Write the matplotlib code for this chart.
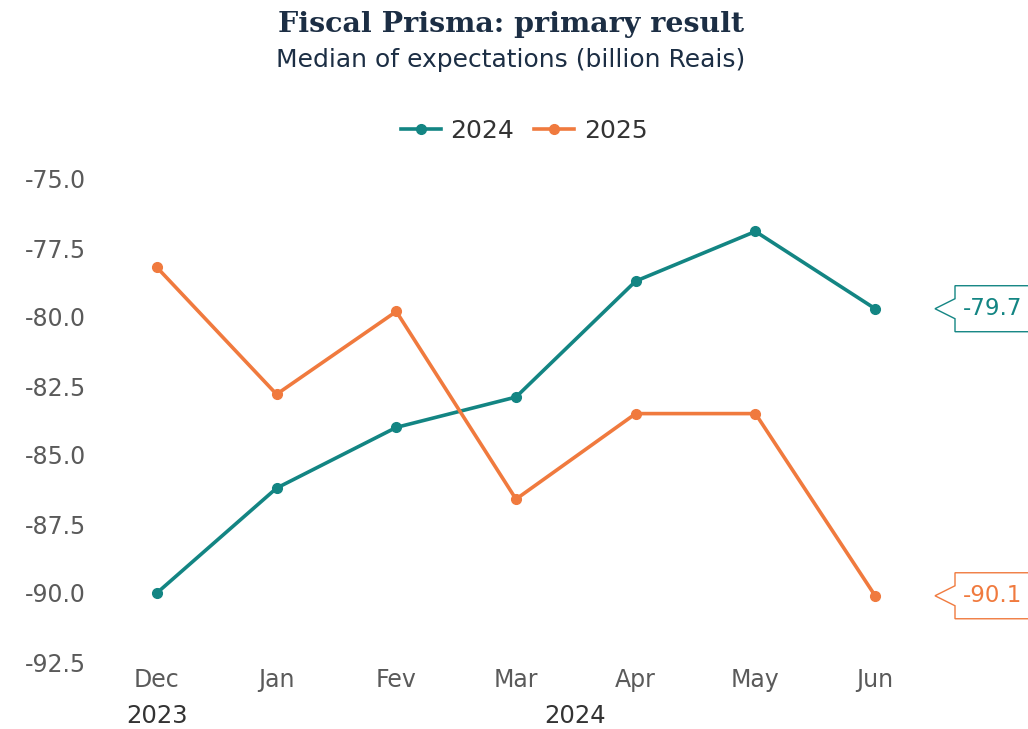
import matplotlib
matplotlib.use("Agg")
import matplotlib.pyplot as plt
import matplotlib.transforms as mtransforms
from matplotlib.patches import Polygon

months = ["Dec", "Jan", "Fev", "Mar", "Apr", "May", "Jun"]
years = ["2023", "2024"]
exp_2024 = [-90.0, -86.2, -84.0, -82.9, -78.7, -76.9, -79.7]
exp_2025 = [-78.2, -82.8, -79.8, -86.6, -83.5, -83.5, -90.1]
last_labels = ["-79.7", "-90.1"]

teal = "#138583"
orange = "#f07a3e"
navy = "#1c2e44"
grey = "#5a5a5a"
sans = "DejaVu Sans"

fig = plt.figure(figsize=(10.28, 7.29), dpi=100)
W, H = 1028, 729
# axes placed in pixels: x from 97 to 935, y (top-origin) from 179 to 662
ax = fig.add_axes([97 / W, 67 / H, (935 - 97) / W, (662 - 179) / H])

x = list(range(len(months)))
ax.plot(x, exp_2024, color=teal, lw=2.6, marker="o", ms=7, label="2024", clip_on=False)
ax.plot(x, exp_2025, color=orange, lw=2.6, marker="o", ms=7, label="2025", clip_on=False)

ax.set_xlim(-0.5, 6.5)
ax.set_ylim(-92.5, -75)
ax.set_yticks([-75, -77.5, -80, -82.5, -85, -87.5, -90, -92.5])
ax.set_yticklabels([f"{v:.1f}" for v in ax.get_yticks()])
ax.set_xticks(x)
ax.set_xticklabels(months)
for s in ax.spines.values():
    s.set_visible(False)
ax.tick_params(length=0, labelsize=17, labelcolor=grey, pad=8)
ax.tick_params(axis="x", pad=4)
for lab in ax.get_xticklabels() + ax.get_yticklabels():
    lab.set_family(sans)

# year labels under the months
fig.text(157 / W, 1 - 716 / H, years[0], ha="center", va="center",
         fontsize=17.5, color="#333333", family=sans)
fig.text(575 / W, 1 - 716 / H, years[1], ha="center", va="center",
         fontsize=17.5, color="#333333", family=sans)

fig.text(0.497, 1 - 24 / H, "Fiscal Prisma: primary result", ha="center", va="center",
         fontsize=20.5, fontweight="bold", color=navy, family="DejaVu Serif")
fig.text(0.497, 1 - 60 / H, "Median of expectations (billion Reais)", ha="center",
         va="center", fontsize=18, color=navy, family=sans)

leg = fig.legend(loc="center", bbox_to_anchor=(0.51, 1 - 131 / H), ncol=2, frameon=False,
                 handlelength=1.6, columnspacing=0.8, handletextpad=0.4,
                 prop={"family": sans, "size": 18})
for t in leg.get_texts():
    t.set_color("#333333")

# callout boxes with last values
fig.canvas.draw()
ident = mtransforms.IdentityTransform()
for vals, lab, col in [(exp_2024, last_labels[0], teal), (exp_2025, last_labels[1], orange)]:
    _, yd = ax.transData.transform((0, vals[-1]))
    tip, left, right = 935, 955, 1040
    pts = [(tip, yd), (left, yd + 10), (left, yd + 23), (right, yd + 23),
           (right, yd - 23), (left, yd - 23), (left, yd - 10)]
    fig.add_artist(Polygon(pts, closed=True, fill=True, facecolor="white",
                           edgecolor=col, lw=1.0, transform=ident))
    fig.text(963 / W, yd / H, lab, ha="left", va="center", fontsize=16.5,
             color=col, family=sans)

fig.savefig("out.png", dpi=100)
